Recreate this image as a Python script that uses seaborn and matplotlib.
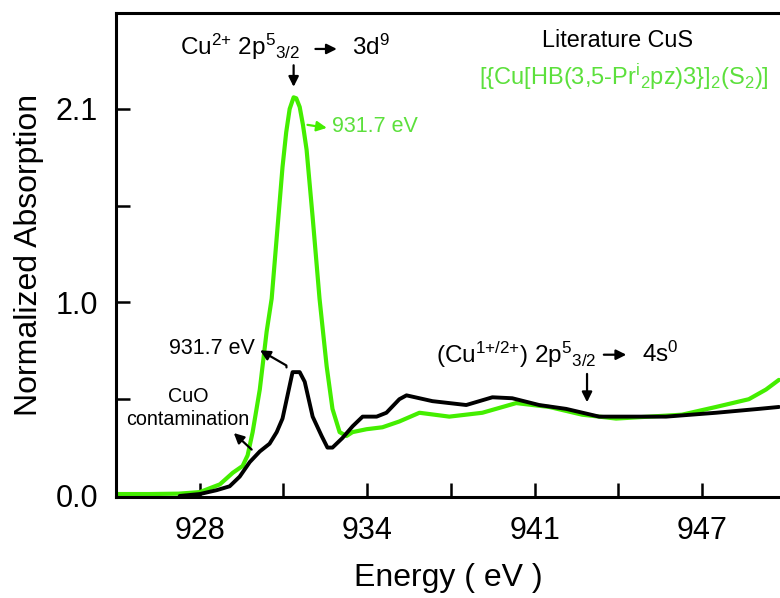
import numpy as np
import pandas as pd
import seaborn as sns
import matplotlib
matplotlib.use("Agg")
import matplotlib.pyplot as plt

# data (energy in eV, normalized absorption)
green_energy = [924.8, 926.1, 927.2, 928.0, 928.76, 929.25, 929.62, 929.81, 930.0, 930.27,
                930.53, 930.72, 931.13, 931.27, 931.4, 931.55, 931.65, 931.78, 931.9, 932.04,
                932.27, 932.53, 932.8, 933.02, 933.29, 933.55, 933.78, 934.31, 934.91, 935.55,
                936.31, 937.44, 938.69, 939.97, 941.22, 942.47, 943.75, 945.0, 946.24, 947.53,
                948.77, 949.42, 949.91]
green_abs = [0.01, 0.01, 0.012, 0.02, 0.06, 0.12, 0.155, 0.21, 0.33, 0.55,
             0.85, 1.02, 1.70, 1.88, 2.00, 2.06, 2.055, 2.01, 1.92, 1.79,
             1.44, 1.02, 0.67, 0.45, 0.33, 0.31, 0.33, 0.345, 0.355, 0.385,
             0.43, 0.41, 0.43, 0.48, 0.46, 0.42, 0.40, 0.41, 0.42, 0.46,
             0.50, 0.55, 0.60]

black_energy = [927.24, 928.0, 928.64, 929.13, 929.51, 929.89, 930.27, 930.64, 930.91, 931.13,
                931.32, 931.51, 931.78, 931.97, 932.27, 932.61, 932.83, 933.02, 933.4, 933.78,
                934.16, 934.69, 935.06, 935.55, 935.82, 936.8, 938.08, 939.07, 939.82, 940.84,
                941.86, 943.11, 945.64, 947.53, 949.15, 949.91]
black_abs = [0.0, 0.01, 0.03, 0.05, 0.10, 0.175, 0.23, 0.27, 0.33, 0.40,
             0.52, 0.64, 0.64, 0.59, 0.41, 0.31, 0.25, 0.25, 0.30, 0.36,
             0.41, 0.41, 0.43, 0.50, 0.52, 0.49, 0.47, 0.51, 0.505, 0.47,
             0.45, 0.41, 0.41, 0.43, 0.45, 0.46]

x_tick_labels = ["928", "", "934", "", "941", "", "947"]
y_tick_labels = ["0.0", "", "1.0", "", "2.1"]

green = "#44ee00"
green_text = "#5ce03c"

sns.set_style("ticks")
plt.rcParams["font.family"] = ["Liberation Sans", "DejaVu Sans"]
plt.rcParams["mathtext.fontset"] = "custom"
plt.rcParams["mathtext.rm"] = "Liberation Sans"
plt.rcParams["mathtext.it"] = "Liberation Sans"
plt.rcParams["mathtext.bf"] = "Liberation Sans:bold"
for key in ["text.color", "axes.labelcolor", "xtick.color", "ytick.color", "axes.edgecolor"]:
    plt.rcParams[key] = "black"

fig = plt.figure(figsize=(7.8, 5.98), dpi=100)
ax = fig.add_axes([0.1487, 0.169, 0.8513, 0.809])

df_g = pd.DataFrame({"energy": green_energy, "abs": green_abs})
df_b = pd.DataFrame({"energy": black_energy, "abs": black_abs})
sns.lineplot(data=df_g, x="energy", y="abs", ax=ax, color=green, lw=3.0, sort=False)
sns.lineplot(data=df_b, x="energy", y="abs", ax=ax, color="black", lw=2.8, sort=False)

ax.set_xlim(924.83, 949.95)
ax.set_ylim(-0.005, 2.495)
ax.set_xticks([928 + 19 / 6 * k for k in range(7)])
ax.set_xticklabels(x_tick_labels)
ax.set_yticks([0, 0.5, 1.0, 1.5, 2.0])
ax.set_yticklabels(y_tick_labels)
ax.tick_params(direction="in", length=10, width=1.8, labelsize=22, colors="black")
ax.tick_params(axis="x", pad=14)
ax.tick_params(axis="y", pad=13)
ax.spines["right"].set_visible(False)
for s in ["left", "bottom", "top"]:
    ax.spines[s].set_linewidth(2.2)
    ax.spines[s].set_color("black")

ax.set_xlabel("Energy ( eV )", fontsize=23, labelpad=12)
ax.set_ylabel("Normalized Absorption", fontsize=23, labelpad=8)

arr = dict(arrowstyle="-|>", color="black", lw=1.6, mutation_scale=15)

# top annotation
ax.text(927.24, 2.32, r"Cu$^{2{+}}$ 2p$^{5}$$_{3/2}$", fontsize=17.5, va="center", ha="left")
ax.annotate("", xy=(933.29, 2.31), xytext=(932.27, 2.31), arrowprops=arr)
ax.text(933.74, 2.32, r"3d$^{9}$", fontsize=17.5, va="center", ha="left")
ax.annotate("", xy=(931.55, 2.10), xytext=(931.55, 2.24), arrowprops=arr)

# green peak label
ax.annotate("", xy=(932.91, 1.90), xytext=(931.97, 1.92),
            arrowprops=dict(arrowstyle="-|>", color=green, lw=1.6, mutation_scale=15))
ax.text(932.99, 1.91, "931.7 eV", color=green_text, fontsize=15.5, va="center", ha="left")

# black peak label
ax.text(930.08, 0.76, "931.7 eV", fontsize=15.5, va="center", ha="right")
ax.annotate("", xy=(930.19, 0.76), xytext=(931.29, 0.65),
            arrowprops=dict(arr, connectionstyle="angle,angleA=95,angleB=-30,rad=0"))

# CuO contamination
ax.text(927.55, 0.455, "CuO\ncontamination", fontsize=14.2, va="center", ha="center",
        linespacing=1.25)
ax.annotate("", xy=(929.21, 0.335), xytext=(930.04, 0.23), arrowprops=arr)

# 4s annotation
ax.text(936.95, 0.73, r"(Cu$^{1{+}/2{+}}$) 2p$^{5}$$_{3/2}$", fontsize=17.5, va="center", ha="left")
ax.annotate("", xy=(944.24, 0.73), xytext=(943.18, 0.73), arrowprops=arr)
ax.text(944.73, 0.73, r"4s$^{0}$", fontsize=17.5, va="center", ha="left")
ax.annotate("", xy=(942.65, 0.47), xytext=(942.65, 0.645), arrowprops=arr)

# legend-like labels
ax.text(943.79, 2.356, "Literature CuS", fontsize=16.8, va="center", ha="center")
ax.text(944.05, 2.165, r"[{Cu[HB(3,5-Pr$^{i}$$_{2}$pz)3}]$_{2}$(S$_{2}$)]",
        color=green_text, fontsize=17, va="center", ha="center")

fig.savefig("out.png", dpi=100)
